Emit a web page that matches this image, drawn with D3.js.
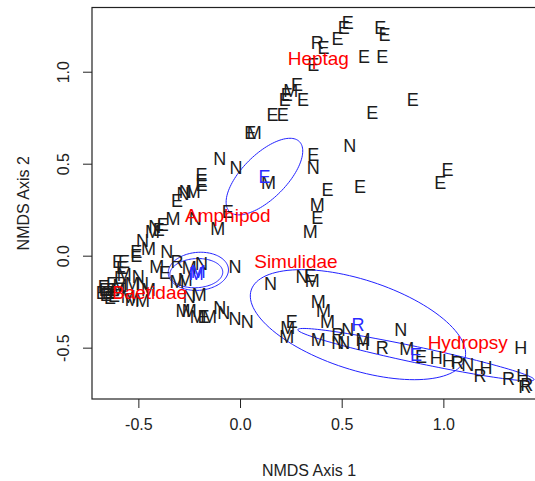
<!DOCTYPE html>
<html>
<head>
<meta charset="utf-8">
<script src="https://cdn.jsdelivr.net/npm/d3@7"></script>
<style>
  body { margin: 0; background: #fff; }
  text { font-family: "Liberation Sans", Arial, sans-serif; }
  .site { fill: #1c1c1c; font-size: 18px; }
  .centroid { fill: #2a2aff; font-size: 18px; }
  .group-label { fill: #ff0000; font-size: 19px; }
  .tick-label, .axis-title { fill: #222; font-size: 16px; }
  .ellipse { fill: none; stroke: #2222ff; stroke-width: 1; }
</style>
</head>
<body>
<div id="graphic"></div>
<script>
(function(d3){

    // Canvas size
    let width = 535, height = 481;

    // Plot box (R style: box drawn round the whole region)
    let left = 92, top = 7.5, right = 543, bottom = 399;

    // Site scores, one letter per sample
    let siteLabels = [
        'E','E','E','E','E','R','E','E','E','E','E','E','M','E','E','E','E','E','E','E',
        'M','N','N','N','E','N','E','E','E','E','M','E','E','E','M','N','N','E','M','E',
        'N','M','E','N','M','E','E','N','M','E','M','E','M','N','R','M','E','M','M','M',
        'N','N','M','N','M','M','M','E','M','N','N','N','N',
        'E','M','E','N','M','E','E','E','E','E','E','M','M','M','M','M','N','E','E','M',
        'E','E','E','E',
        'N','N','E','M','M','M','M','E','M','M','M','R','N','N','N','M','H','R','N','M',
        'E','H','H','R','N','H','R','H','R','H','R','R'
    ];
    let axis1 = [
        0.53, 0.51, 0.69, 0.71, 0.48, 0.38, 0.41, 0.36, 0.61, 0.70, 0.28, 0.31, 0.25, 0.23, 0.22, 0.16, 0.21, 0.85, 0.65, 0.05,
        0.07, 0.54, -0.10, -0.02, 0.36, 0.36, 1.02, 0.985, 0.43, 0.59, 0.14, -0.19, -0.19, -0.19, -0.23, -0.27, -0.28, -0.31, -0.33, -0.38,
        -0.42, -0.43, -0.40, -0.48, -0.45, -0.51, -0.51, -0.22, -0.11, -0.06, 0.38, 0.38, 0.345, -0.36, -0.31, -0.41, -0.37, -0.31, -0.27, -0.25,
        -0.19, -0.025, -0.20, -0.25, -0.28, -0.25, -0.21, -0.18, -0.15, -0.10, -0.08, -0.025, 0.035,
        -0.58, -0.57, -0.59, -0.50, -0.53, -0.63, -0.665, -0.65, -0.615, -0.68, -0.64, -0.60, -0.55, -0.53, -0.48, -0.45, -0.48, -0.57, -0.60, -0.59,
        -0.67, -0.63, -0.66, -0.62,
        0.15, 0.305, 0.345, 0.355, 0.385, 0.41, 0.43, 0.255, 0.235, 0.23, 0.385, 0.48, 0.48, 0.51, 0.53, 0.605, 0.605, 0.70, 0.79, 0.82,
        0.89, 0.965, 1.025, 1.07, 1.12, 1.21, 1.18, 1.38, 1.32, 1.39, 1.40, 1.41
    ];
    let axis2 = [
        1.27, 1.24, 1.24, 1.20, 1.18, 1.16, 1.13, 1.04, 1.08, 1.08, 0.93, 0.85, 0.90, 0.875, 0.85, 0.77, 0.77, 0.85, 0.78, 0.67,
        0.67, 0.60, 0.53, 0.48, 0.55, 0.48, 0.47, 0.40, 0.36, 0.375, 0.40, 0.44, 0.41, 0.385, 0.35, 0.35, 0.34, 0.30, 0.20, 0.17,
        0.16, 0.13, 0.14, 0.08, 0.04, 0.025, 0.00, 0.20, 0.15, 0.24, 0.28, 0.21, 0.13, 0.02, -0.03, -0.06, -0.09, -0.14, -0.13, -0.065,
        -0.04, -0.06, -0.21, -0.22, -0.30, -0.30, -0.33, -0.33, -0.33, -0.28, -0.31, -0.34, -0.36,
        -0.065, -0.10, -0.12, -0.115, -0.15, -0.15, -0.185, -0.20, -0.20, -0.20, -0.225, -0.185, -0.22, -0.24, -0.245, -0.185, -0.15, -0.03, -0.03, -0.16,
        -0.165, -0.185, -0.21, -0.215,
        -0.15, -0.115, -0.11, -0.135, -0.25, -0.30, -0.36, -0.36, -0.39, -0.44, -0.455, -0.43, -0.47, -0.47, -0.40, -0.455, -0.48, -0.50, -0.40, -0.505,
        -0.55, -0.555, -0.57, -0.58, -0.59, -0.61, -0.65, -0.50, -0.67, -0.65, -0.71, -0.70
    ];

    // Group centroids (blue letters) and the ordination ellipses round them
    let centroidLabels = ['E', 'M', 'M', 'R', 'E'];
    let centroidAxis1 = [0.12, -0.205, -0.215, 0.58, 0.865];
    let centroidAxis2 = [0.43, -0.085, -0.095, -0.375, -0.538];
    // Ellipse conjugate half-axes, in axis units
    let ellipseUx = [0.172, 0.148, 0.130, 0.525, 0.581];
    let ellipseUy = [0.190, 0.012, 0.008, -0.188, -0.136];
    let ellipseVx = [0.077, -0.006, -0.004, -0.0685, -0.0081];
    let ellipseVy = [-0.085, 0.103, 0.079, -0.2326, -0.0425];

    // Taxon labels (red)
    let groupNames = ['Heptag', 'Amphipod', 'Simulidae', 'Baetidae', 'Hydropsy'];
    let groupAxis1 = [0.385, -0.06, 0.275, -0.445, 1.12];
    let groupAxis2 = [1.075, 0.22, -0.03, -0.20, -0.47];

    let xTicks = [-0.5, 0.0, 0.5, 1.0];
    let yTicks = [-0.5, 0.0, 0.5, 1.0];

    let svg = d3.select('#graphic')
                .append('svg')
                .attr('width', width)
                .attr('height', height);

    let x = d3.scaleLinear().domain([-0.728, 1.490]).range([left, right]);
    let y = d3.scaleLinear().domain([-0.779, 1.349]).range([bottom, top]);

    // Ellipses
    let steps = d3.range(0, 120);
    let line = d3.line().curve(d3.curveLinearClosed);
    centroidLabels.forEach((c, i) => {
        let pts = steps.map(s => {
            let t = 2 * Math.PI * s / steps.length;
            return [
                x(centroidAxis1[i] + Math.cos(t) * ellipseUx[i] + Math.sin(t) * ellipseVx[i]),
                y(centroidAxis2[i] + Math.cos(t) * ellipseUy[i] + Math.sin(t) * ellipseVy[i])
            ];
        });
        svg.append('path')
           .attr('d', line(pts))
           .attr('class', 'ellipse');
    });

    // Site letters
    siteLabels.forEach((s, i) => {
        svg.append('text')
           .attr('x', x(axis1[i]))
           .attr('y', y(axis2[i]))
           .attr('dy', '0.36em')
           .attr('text-anchor', 'middle')
           .attr('class', 'site')
           .text(s);
    });

    // Centroid letters
    centroidLabels.forEach((c, i) => {
        svg.append('text')
           .attr('x', x(centroidAxis1[i]))
           .attr('y', y(centroidAxis2[i]))
           .attr('dy', '0.36em')
           .attr('text-anchor', 'middle')
           .attr('class', 'centroid')
           .text(c);
    });

    // Taxon labels
    groupNames.forEach((g, i) => {
        svg.append('text')
           .attr('x', x(groupAxis1[i]))
           .attr('y', y(groupAxis2[i]))
           .attr('dy', '0.36em')
           .attr('text-anchor', 'middle')
           .attr('class', 'group-label')
           .text(g);
    });

    // Box
    svg.append('rect')
       .attr('x', left)
       .attr('y', top)
       .attr('width', right - left)
       .attr('height', bottom - top)
       .attr('fill', 'none')
       .attr('stroke', '#222')
       .attr('stroke-width', 1.2);

    // Axes with R-style outward ticks
    let xAxis = svg.append('g')
        .attr('transform', `translate(0 ${bottom})`)
        .call(d3.axisBottom(x).tickValues(xTicks).tickSize(9).tickFormat(d => d.toFixed(1)));
    xAxis.select('.domain').remove();
    xAxis.selectAll('text').attr('class', 'tick-label').attr('y', 25).attr('dy', '0.36em');

    let yAxis = svg.append('g')
        .attr('transform', `translate(${left} 0)`)
        .call(d3.axisLeft(y).tickValues(yTicks).tickSize(9).tickFormat(d => d.toFixed(1)));
    yAxis.select('.domain').remove();
    yAxis.selectAll('text')
         .attr('class', 'tick-label')
         .attr('x', 0).attr('dy', 0)
         .attr('text-anchor', 'middle')
         .attr('transform', 'translate(-29 0) rotate(-90) translate(0 5.5)');
    svg.selectAll('.tick line').attr('stroke', '#222');

    svg.append('text')
       .attr('x', (left + 526) / 2)
       .attr('y', 470)
       .attr('dy', '0.36em')
       .attr('text-anchor', 'middle')
       .attr('class', 'axis-title')
       .text('NMDS Axis 1');

    svg.append('text')
       .attr('transform', `translate(23 ${(top + bottom) / 2}) rotate(-90)`)
       .attr('dy', '0.36em')
       .attr('text-anchor', 'middle')
       .attr('class', 'axis-title')
       .text('NMDS Axis 2');

})(window.d3);
</script>
</body>
</html>
